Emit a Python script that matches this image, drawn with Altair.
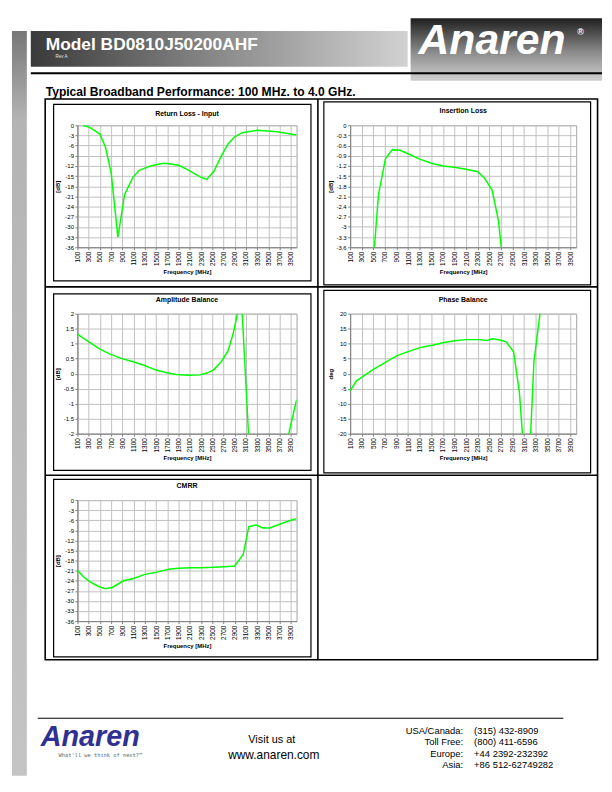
import altair as alt
import pandas as pd

FONT = "Liberation Sans"

# ---------------- data ----------------
x_ticks = list(range(100, 4000, 200))

rl_freq = [200, 300, 400, 500, 600, 700, 820, 940, 1090, 1200, 1400, 1600, 1700, 1900,
           2050, 2300, 2400, 2530, 2650, 2780, 2900, 3030, 3300, 3650, 4000]
rl_val = [-0.1, -0.5, -1.5, -2.6, -6.5, -14.0, -33.0, -20.4, -15.3, -13.3, -12.0, -11.3,
          -11.3, -11.8, -13.0, -15.4, -16.0, -13.6, -9.4, -5.5, -3.4, -2.2, -1.5, -1.9, -2.9]

il_freq = [500, 590, 710, 830, 960, 1100, 1300, 1500, 1700, 1900, 2100, 2300, 2420,
           2550, 2660, 2750]
il_val = [-4.0, -2.04, -0.98, -0.72, -0.74, -0.84, -1.0, -1.12, -1.2, -1.24, -1.3, -1.37,
          -1.56, -1.92, -2.83, -4.3]

ab_freq = [100, 290, 500, 680, 880, 1090, 1270, 1500, 1690, 1860, 2100, 2280, 2400, 2520,
           2660, 2780, 2870, 2950, 3000, 3200, 3500, 3800, 4000]
ab_val = [1.32, 1.08, 0.82, 0.65, 0.51, 0.40, 0.29, 0.12, 0.03, -0.03, -0.05, -0.04, 0.02,
          0.12, 0.40, 0.76, 1.32, 2.02, 3.2, -4.0, -5.0, -2.5, -0.87]

pb_freq = [100, 210, 330, 500, 670, 900, 1100, 1320, 1520, 1700, 1900, 2100, 2320, 2460,
           2550, 2690, 2790, 2920, 3020, 3100, 3200, 3270, 3400]
pb_val = [-5.7, -2.4, -0.8, 1.4, 3.35, 5.95, 7.35, 8.76, 9.5, 10.3, 11.0, 11.35, 11.35,
          11.1, 11.6, 11.2, 10.6, 7.3, -6.2, -27.5, -26.0, 3.8, 24.0]

cm_freq = [100, 220, 340, 480, 600, 720, 920, 1100, 1300, 1500, 1720, 1900, 2100, 2300,
           2500, 2720, 2900, 3050, 3150, 3280, 3400, 3520, 3700, 3900, 4000]
cm_val = [-20.9, -23.0, -24.5, -25.7, -26.4, -26.0, -24.0, -23.3, -22.1, -21.5, -20.6,
          -20.3, -20.1, -20.1, -20.0, -19.8, -19.6, -16.2, -7.9, -7.4, -8.3, -8.3, -7.2,
          -6.0, -5.5]

db36_ticks = [0, -3, -6, -9, -12, -15, -18, -21, -24, -27, -30, -33, -36]
il_ticks = [0, -0.3, -0.6, -0.9, -1.2, -1.5, -1.8, -2.1, -2.4, -2.7, -3, -3.3, -3.6]
ab_ticks = [2, 1.5, 1, 0.5, 0, -0.5, -1, -1.5, -2]
pb_ticks = [20, 15, 10, 5, 0, -5, -10, -15, -20]

contacts_lbl = ["USA/Canada:", "Toll Free:", "Europe:", "Asia:"]
contacts_val = ["(315) 432-8909", "(800) 411-6596", "+44 2392-232392", "+86 512-62749282"]

# ---------------- layout constants (page pixels) ----------------
PX0, PY0 = 77, 122          # page position of the first plot area
LW, RW = 221, 228           # plot widths (left / right column)
H1, H2, H3 = 123, 121, 122  # plot heights per row

one = pd.DataFrame({"k": [0]})


def rx(x):
    return x - PX0


def ry(y):
    return y - PY0


def rect(x1, y1, x2, y2, **kw):
    return alt.Chart(one).mark_rect(**kw).encode(
        x=alt.value(rx(x1)), x2=alt.value(rx(x2)), y=alt.value(ry(y1)), y2=alt.value(ry(y2)))


def box(x1, y1, x2, y2, sw=1.2):
    return rect(x1, y1, x2, y2, filled=False, stroke="black", strokeWidth=sw)


def rule(x1, y1, x2, y2, sw=1.6):
    return alt.Chart(one).mark_rule(color="black", strokeWidth=sw).encode(
        x=alt.value(rx(x1)), x2=alt.value(rx(x2)), y=alt.value(ry(y1)), y2=alt.value(ry(y2)))


def text(s, x, y, size, align="left", weight="normal", style="normal", color="black", font=FONT):
    return alt.Chart(one).mark_text(
        text=s, align=align, baseline="alphabetic", fontSize=size, fontWeight=weight,
        fontStyle=style, color=color, font=font).encode(x=alt.value(rx(x)), y=alt.value(ry(y)))


def grad(stops, vertical=False):
    return alt.LinearGradient(
        gradient="linear",
        stops=[alt.GradientStop(offset=o, color=c) for o, c in stops],
        x1=0, y1=0, x2=0 if vertical else 1, y2=1 if vertical else 0)


deco = [
    # left grey strip
    rect(11, 27, 26, 778, color=grad([(0, "#777777"), (0.12, "#b4b4b4"), (1, "#c4c4c4")], vertical=True)),
    # header bar
    rect(30, 27, 410, 63, color=grad([(0, "#3a3a3a"), (0.5, "#8a8a8a"), (1, "#d2d2d2")])),
    text("Model BD0810J50200AHF", 45, 46, 17.5, weight="bold", color="white"),
    text("Rev A", 55, 54.5, 4.5, color="#e6e6e6"),
    # logo box
    rect(413, 14, 606, 77, color=grad([(0, "#1e1e1e"), (0.55, "#8c8c8c"), (1, "#d0d0d0")], vertical=True)),
    rule(30, 69.5, 606, 69.5, sw=2),
    text("Anaren", 421, 50, 43, weight="bold", style="italic", color="white"),
    text("\u00ae", 581, 31, 9, weight="bold", color="white"),
    # page title
    text("Typical Broadband Performance: 100 MHz. to 4.0 GHz.", 45, 92, 12.2, weight="bold"),
    # title of the first chart (drawn as text so the page decoration does not move it)
    text("Return Loss - Input", PX0 + LW / 2, 113, 7, align="center", weight="bold"),
    # panel grid
    box(44.5, 95.5, 601.5, 661, sw=1.6),
    rule(319.5, 95.5, 319.5, 661),
    rule(44.5, 285, 601.5, 285),
    rule(44.5, 475, 601.5, 475),
    # chart frames
    box(53, 101, 312.5, 279),
    box(325.5, 98.5, 594.5, 283),
    box(53, 292, 312.5, 470),
    box(325.5, 288.5, 594.5, 472.5),
    box(53, 479, 312.5, 658),
    # footer
    rule(37, 720, 567, 720, sw=1.2),
    text("Anaren", 40, 748, 29, weight="bold", style="italic", color="#2e3192"),
    text("What'll we think of next?\u2122", 58, 759, 5.4, color="#666666", font="DejaVu Sans Mono"),
    text("Visit us at", 273, 745, 11, align="center"),
    text("www.anaren.com", 275, 761, 12, align="center"),
]
for i, (lbl, val) in enumerate(zip(contacts_lbl, contacts_val)):
    yy = 736 + i * 11.3
    deco.append(text(lbl, 466, yy, 9.5, align="right"))
    deco.append(text(val, 477, yy, 9.5))

LABEL_EXPR = "(datum.value < 0 ? '-' : '') + format(abs(datum.value), '')"


def make_chart(freq, vals, title, ydomain, yticks, ytitle, w, h, extra=None):
    df = pd.DataFrame({"f": freq, "v": vals})
    x = alt.X("f:Q", scale=alt.Scale(domain=[100, 4000], nice=False, zero=False),
              axis=alt.Axis(values=x_ticks, title="Frequency [MHz]", format="d", labelAngle=270,
                            labelFontSize=6.5, tickSize=2.5, labelPadding=1.5, titlePadding=3))
    y = alt.Y("v:Q", scale=alt.Scale(domain=ydomain, nice=False, zero=False),
              axis=alt.Axis(values=yticks, title=ytitle, labelExpr=LABEL_EXPR, labelFontSize=6,
                            tickSize=2.5, labelPadding=1.5, minExtent=13, maxExtent=13,
                            titlePadding=4))
    line = alt.Chart(df).mark_line(color="#00ff00", strokeWidth=1.5, clip=True).encode(x=x, y=y)
    layers = [line] + (extra or [])
    props = {"width": w, "height": h}
    if title:
        props["title"] = alt.Title(title, frame="group")
    return alt.layer(*layers).properties(**props)


c1 = make_chart(rl_freq, rl_val, None, [-36, 0], db36_ticks, "[dB]", LW, H1, extra=deco)
c2 = make_chart(il_freq, il_val, "Insertion Loss", [-3.6, 0], il_ticks, "[dB]", RW, H1)
c3 = make_chart(ab_freq, ab_val, "Amplitude Balance", [-2, 2], ab_ticks, "[dB]", LW, H2)
c4 = make_chart(pb_freq, pb_val, "Phase Balance", [-20, 20], pb_ticks, "deg", RW, H2)
c5 = make_chart(cm_freq, cm_val, "CMRR", [-36, 0], db36_ticks, "[dB]", LW, H3)

chart = alt.concat(c1, c2, c3, c4, c5, columns=2, bounds="flush",
                   spacing={"row": 67, "column": 54}).properties(
    padding={"left": 3, "top": 6, "right": 0, "bottom": 0}
).configure_view(stroke="#a0a0a0", strokeWidth=1).configure_axis(
    labelFont=FONT, titleFont=FONT, titleFontSize=6, titleFontWeight="bold",
    domainColor="#808080", tickColor="#808080", gridColor="#c0c0c0", gridWidth=1,
    labelColor="black", titleColor="black"
).configure_title(font=FONT, fontSize=7, fontWeight="bold", offset=8, anchor="middle",
                  color="black", frame="group")

chart.save("out.html", embed_options={"renderer": "svg", "actions": False})
